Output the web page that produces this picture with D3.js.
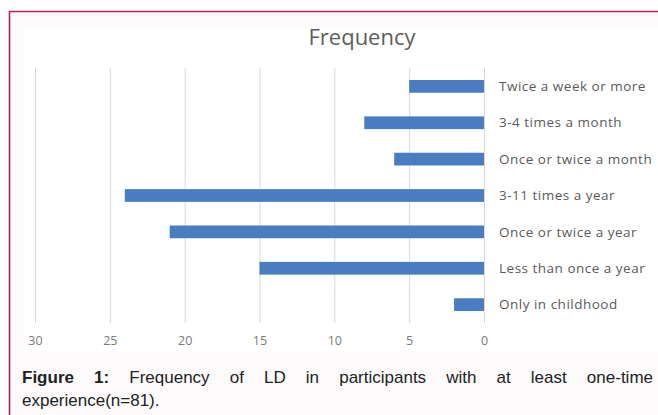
<!DOCTYPE html>
<html>
<head>
<meta charset="utf-8">
<script src="https://cdn.jsdelivr.net/npm/d3@7/dist/d3.min.js"></script>
<style>
  html, body { margin: 0; padding: 0; background: #ffffff; }
  svg { display: block; }
</style>
</head>
<body>
<svg id="chart" width="658" height="415"></svg>
<script>
// Frequency of LD experiences (n = 81)
const categories = [
  "Twice a week or more",
  "3-4 times a month",
  "Once or twice a month",
  "3-11 times a year",
  "Once or twice a year",
  "Less than once a year",
  "Only in childhood"
];
const counts = [5, 8, 6, 24, 21, 15, 2];
const tickValues = [0, 5, 10, 15, 20, 25, 30];
const chartTitle = "Frequency";
const captionBold = "Figure 1:";
const captionText = "Frequency of LD in participants with at least one-time experience(n=81).";

const svg = d3.select("#chart");

// Framed panel with a crimson rule on top and left
svg.append("rect").attr("x", 9).attr("y", 11).attr("width", 649).attr("height", 404)
  .attr("fill", "#fcfafb");
svg.append("rect").attr("x", 24).attr("y", 27).attr("width", 634).attr("height", 325)
  .attr("fill", "#ffffff");
svg.append("line").attr("x1", 9).attr("x2", 658).attr("y1", 11.5).attr("y2", 11.5)
  .attr("stroke", "#b3254d").attr("stroke-width", 1.6);
svg.append("line").attr("x1", 9.5).attr("x2", 9.5).attr("y1", 11).attr("y2", 415)
  .attr("stroke", "#b3254d").attr("stroke-width", 1.6);

// Scales: values run right-to-left from zero
const x = d3.scaleLinear().domain([0, 30]).range([484, 35]);
const y = d3.scaleBand().domain(categories).range([68, 323]).paddingInner(0.65).paddingOuter(0.33);

// Vertical gridlines
const grid = svg.append("g")
  .attr("transform", "translate(0,323)")
  .call(d3.axisBottom(x).tickValues(tickValues).tickSize(-255).tickFormat(""));
grid.select(".domain").remove();
grid.selectAll(".tick line").attr("stroke", "#d9d9d9").attr("stroke-width", 1);

// Tick labels
const axis = svg.append("g")
  .attr("transform", "translate(0,323)")
  .call(d3.axisBottom(x).tickValues(tickValues).tickSize(0).tickPadding(13));
axis.select(".domain").remove();
axis.selectAll("text")
  .attr("font-family", "'Open Sans', sans-serif")
  .attr("font-size", 12.5)
  .attr("fill", "#7a7a7a");

// Bars
svg.append("g").selectAll("rect")
  .data(categories)
  .join("rect")
  .attr("x", (d, i) => x(counts[i]))
  .attr("y", d => y(d))
  .attr("width", (d, i) => x(0) - x(counts[i]))
  .attr("height", y.bandwidth())
  .attr("fill", "#4a7cc1");

// Category labels to the right of the zero line
svg.append("g").selectAll("text")
  .data(categories)
  .join("text")
  .attr("x", 499)
  .attr("y", d => y(d) + y.bandwidth() / 2)
  .attr("dy", "0.35em")
  .attr("font-family", "'Open Sans', sans-serif")
  .attr("font-size", 13.5)
  .attr("letter-spacing", "0.5px")
  .attr("fill", "#5a5a5a")
  .text(d => d);

// Title
svg.append("text")
  .attr("x", 362).attr("y", 45)
  .attr("text-anchor", "middle")
  .attr("font-family", "'Open Sans', sans-serif")
  .attr("font-size", 22)
  .attr("fill", "#5e5e5e")
  .text(chartTitle);

// Caption, justified on the first line
const capLeft = 22, capRight = 653;
const capFont = "'Liberation Sans', Arial, sans-serif";
const boldWords = captionBold.split(" ");
const plainWords = captionText.split(" ");
const line1Count = 9; // plain words on the first line
const words = boldWords.map(w => ({ w, bold: true }))
  .concat(plainWords.map(w => ({ w, bold: false })));
const firstLine = words.slice(0, boldWords.length + line1Count);
const secondLine = words.slice(boldWords.length + line1Count);

const cap = svg.append("g").attr("font-family", capFont).attr("font-size", 17).attr("fill", "#222222");
const l1 = cap.selectAll("text.l1").data(firstLine).join("text")
  .attr("class", "l1")
  .attr("y", 383)
  .attr("font-weight", d => d.bold ? "bold" : "normal")
  .text(d => d.w);
const widths = [];
l1.each(function () { widths.push(this.getComputedTextLength()); });
const total = d3.sum(widths);
const gap = (capRight - capLeft - total) / (firstLine.length - 1);
let cx = capLeft;
l1.attr("x", (d, i) => { const v = cx; cx += widths[i] + gap; return v; });

cap.append("text")
  .attr("x", capLeft).attr("y", 406)
  .text(secondLine.map(d => d.w).join(" "));
</script>
</body>
</html>
